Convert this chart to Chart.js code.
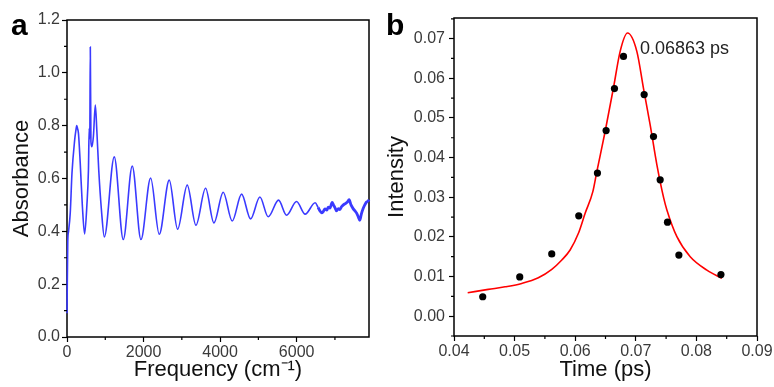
<!DOCTYPE html>
<html>
<head>
<meta charset="utf-8">
<script src="https://cdn.jsdelivr.net/npm/chart.js@4.4.0/dist/chart.umd.min.js"></script>
<style>
  body { margin: 0; background: #fff; font-family: "Liberation Sans", Arial, sans-serif; }
  #wrap { position: relative; width: 774px; height: 387px; overflow: hidden; }
  .panel { position: absolute; top: 0; }
  .tag { position: absolute; font-weight: bold; font-size: 30px; line-height: 30px; color: #000; }
</style>
</head>
<body>
<div id="wrap">
  <div class="panel" style="left:0"><canvas id="chartA" width="380" height="387"></canvas></div>
  <div class="panel" style="left:378px"><canvas id="chartB" width="396" height="387"></canvas></div>
  <div class="tag" style="left:11px; top:10px">a</div>
  <div class="tag" style="left:386px; top:10px">b</div>
</div>
<script>
// panel a - absorbance spectrum (peaks / troughs)
const freqX = [0, 20, 40, 85, 130, 200, 230, 255, 275, 300, 345, 400, 460, 520, 560, 580, 595, 609, 625, 650, 690, 740, 780, 830, 900, 975,
  1235, 1470, 1705, 1932, 2185, 2410, 2671, 2890, 3141, 3368, 3620, 3838, 4081, 4316, 4561, 4796, 5039, 5256, 5527, 5736, 5997, 6222, 6483,
  6560, 6606, 6650, 6692, 6740, 6790, 6823, 6870, 6927, 6960, 7000, 7041, 7090, 7130, 7172, 7220, 7270, 7320, 7371, 7420, 7475, 7520, 7563,
  7610, 7650, 7690, 7737, 7780, 7825, 7870, 7890];
const absorbY = [0.09, 0.36, 0.40, 0.47, 0.62, 0.745, 0.78, 0.80, 0.79, 0.77, 0.66, 0.50, 0.39, 0.50, 0.63, 0.79, 0.75, 1.098, 0.74, 0.72, 0.76, 0.878, 0.78, 0.63, 0.48, 0.379,
  0.682, 0.369, 0.647, 0.369, 0.602, 0.389, 0.594, 0.408, 0.575, 0.423, 0.563, 0.432, 0.548, 0.439, 0.541, 0.447, 0.530, 0.455, 0.518, 0.461, 0.513, 0.465, 0.508,
  0.49, 0.478, 0.470, 0.474, 0.485, 0.48, 0.492, 0.488, 0.51, 0.50, 0.49, 0.478, 0.486, 0.482, 0.493, 0.50, 0.505, 0.51, 0.52, 0.50, 0.486, 0.478, 0.470,
  0.455, 0.442, 0.465, 0.486, 0.50, 0.511, 0.515, 0.52];
const freqMajor = [0, 2000, 4000, 6000];
const freqMinor = [1000, 3000, 5000, 7000];
const absMajor = [0, 0.2, 0.4, 0.6, 0.8, 1.0, 1.2];
const absMinor = [0.1, 0.3, 0.5, 0.7, 0.9, 1.1];

// panel b - measured points and fitted curve
const timeX = [0.04474, 0.05085, 0.05613, 0.06059, 0.06367, 0.06510, 0.06648, 0.06797, 0.07138, 0.07292, 0.07402, 0.07523, 0.07711, 0.08405];
const intensityY = [0.0049, 0.0099, 0.0157, 0.0253, 0.0361, 0.0468, 0.0574, 0.0655, 0.0559, 0.0453, 0.0344, 0.0237, 0.0154, 0.0105];
const fitX = [0.04226, 0.04566, 0.04842, 0.05118, 0.05392, 0.05614, 0.05779, 0.05916, 0.06053, 0.06164, 0.06291, 0.06357, 0.06494, 0.06631,
  0.06742, 0.06863, 0.07017, 0.07126, 0.07237, 0.07348, 0.07460, 0.07513, 0.07678, 0.07898, 0.08173, 0.08421];
const fitY = [0.0059, 0.00675, 0.0074, 0.00826, 0.00968, 0.0118, 0.01415, 0.01668, 0.0209, 0.02595, 0.03141, 0.03647, 0.04658, 0.05754,
  0.06679, 0.0714, 0.06679, 0.05754, 0.04827, 0.03816, 0.02982, 0.02679, 0.02004, 0.01499, 0.01162, 0.00953];
const timeMajor = [0.04, 0.05, 0.06, 0.07, 0.08, 0.09];
const timeMinor = [0.045, 0.055, 0.065, 0.075, 0.085];
const intMajor = [0, 0.01, 0.02, 0.03, 0.04, 0.05, 0.06, 0.07];
const intMinor = [-0.005, 0.005, 0.015, 0.025, 0.035, 0.045, 0.055, 0.065, 0.075];
const peakLabel = '0.06863 ps';

const FONT = '"Liberation Sans", Arial, sans-serif';
const tickFont = { family: FONT, size: 16 };
const titleFont = { family: FONT, size: 22 };
const labelColor = '#3a3a3a';

// box round the plot area
const frame = {
  id: 'frame',
  beforeDatasetsDraw(chart) {
    const { ctx, chartArea: a } = chart;
    ctx.save();
    ctx.strokeStyle = '#000';
    ctx.lineWidth = 1.5;
    ctx.strokeRect(a.left, a.top, a.right - a.left, a.bottom - a.top);
    ctx.restore();
  }
};

// short ticks between the labelled ones
const minorTicks = {
  id: 'minorTicks',
  afterDraw(chart, args, opts) {
    const { ctx, chartArea: a } = chart;
    const xs = chart.scales.x, ys = chart.scales.y;
    ctx.save();
    ctx.strokeStyle = '#000';
    ctx.lineWidth = 1.2;
    ctx.beginPath();
    (opts.x || []).forEach(v => {
      const p = xs.getPixelForValue(v);
      ctx.moveTo(p, a.bottom); ctx.lineTo(p, a.bottom + 3);
    });
    (opts.y || []).forEach(v => {
      const p = ys.getPixelForValue(v);
      ctx.moveTo(a.left, p); ctx.lineTo(a.left - 3, p);
    });
    ctx.stroke();
    ctx.restore();
  }
};

// the peak position text in panel b
const peakText = {
  id: 'peakText',
  afterDatasetsDraw(chart, args, opts) {
    if (!opts.text) return;
    const ctx = chart.ctx;
    ctx.save();
    ctx.font = '18px ' + FONT;
    ctx.fillStyle = '#222';
    ctx.textAlign = 'left';
    ctx.textBaseline = 'alphabetic';
    ctx.fillText(opts.text, chart.scales.x.getPixelForValue(opts.x), chart.scales.y.getPixelForValue(opts.y));
    ctx.restore();
  }
};

function keepTicks(list) {
  return function (scale) {
    scale.ticks = list.map(v => ({ value: v }));
  };
}

function axis(opts) {
  return {
    type: 'linear',
    min: opts.min,
    max: opts.max,
    afterBuildTicks: keepTicks(opts.ticks),
    afterFit: opts.fit,
    border: { display: false },
    grid: { drawOnChartArea: false, drawTicks: true, tickLength: 5, tickColor: '#000', tickWidth: 1.2 },
    ticks: { font: tickFont, color: labelColor, padding: opts.pad, maxRotation: 0, autoSkip: false, callback: opts.fmt },
    title: { display: true, text: opts.title, font: titleFont, color: '#111', padding: opts.titlePad }
  };
}

new Chart(document.getElementById('chartA'), {
  type: 'scatter',
  data: {
    datasets: [{
      data: freqX.map((x, i) => ({ x: x, y: absorbY[i] })),
      showLine: true,
      borderColor: 'rgb(58,58,255)',
      borderWidth: 1.6,
      pointRadius: 0,
      cubicInterpolationMode: 'monotone',
      clip: false,
      segment: { borderWidth: c => c.p0.parsed.x > 6550 ? 2.8 : 1.6 }
    }]
  },
  options: {
    responsive: false,
    animation: false,
    layout: { padding: { left: 0, top: 20, right: 11, bottom: 0 } },
    scales: {
      x: axis({ min: 0, max: 7890, ticks: freqMajor, fit: s => { s.height = 50; }, pad: 1,
        fmt: v => String(v), title: 'Frequency (cm\u207B\u00B9)', titlePad: { top: 0, bottom: 4 } }),
      y: axis({ min: 0, max: 1.2, ticks: absMajor, fit: s => { s.width = 67; }, pad: 2,
        fmt: v => v.toFixed(1), title: 'Absorbance', titlePad: { top: 9, bottom: 0 } })
    },
    plugins: {
      legend: { display: false },
      tooltip: { enabled: false },
      minorTicks: { x: freqMinor, y: absMinor }
    }
  },
  plugins: [frame, minorTicks]
});

new Chart(document.getElementById('chartB'), {
  type: 'scatter',
  data: {
    datasets: [{
      data: timeX.map((x, i) => ({ x: x, y: intensityY[i] })),
      pointRadius: 3.6,
      pointBackgroundColor: '#000',
      pointBorderWidth: 0,
      order: 0
    }, {
      data: fitX.map((x, i) => ({ x: x, y: fitY[i] })),
      showLine: true,
      borderColor: 'rgb(255,0,0)',
      borderWidth: 1.6,
      pointRadius: 0,
      cubicInterpolationMode: 'monotone',
      order: 1
    }]
  },
  options: {
    responsive: false,
    animation: false,
    layout: { padding: { left: 0, top: 18, right: 17, bottom: 0 } },
    scales: {
      x: axis({ min: 0.04, max: 0.09, ticks: timeMajor, fit: s => { s.height = 51; }, pad: 1,
        fmt: v => v.toFixed(2), title: 'Time (ps)', titlePad: { top: 0, bottom: 4 } }),
      y: axis({ min: -0.005, max: 0.0752, ticks: intMajor, fit: s => { s.width = 76; }, pad: 4,
        fmt: v => v.toFixed(2), title: 'Intensity', titlePad: { top: 6, bottom: 0 } })
    },
    plugins: {
      legend: { display: false },
      tooltip: { enabled: false },
      minorTicks: { x: timeMinor, y: intMinor },
      peakText: { text: peakLabel, x: 0.0707, y: 0.066 }
    }
  },
  plugins: [frame, minorTicks, peakText]
});
</script>
</body>
</html>
